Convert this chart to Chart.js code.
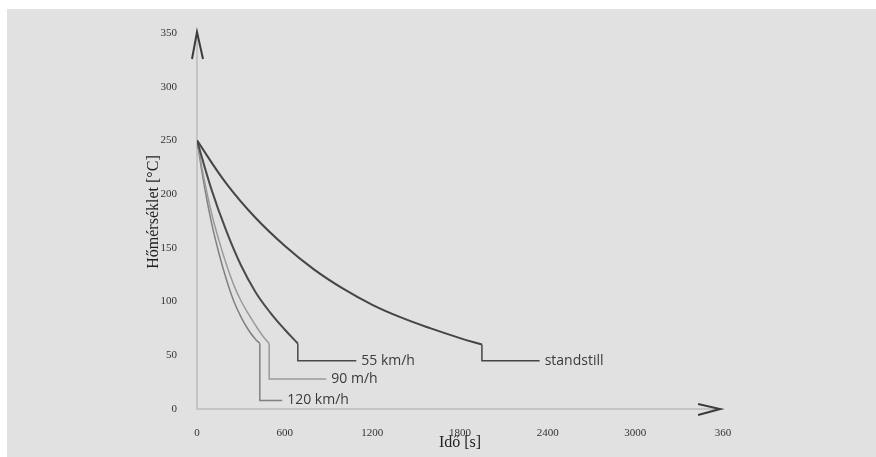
<!DOCTYPE html>
<html>
<head>
<meta charset="utf-8">
<script src="https://cdn.jsdelivr.net/npm/chart.js@4/dist/chart.umd.min.js"></script>
<style>
  body { margin: 0; background: #fff; }
  #wrap { position: absolute; left: 7px; top: 9px; width: 869px; height: 448px; background: #e1e1e1; }
</style>
</head>
<body>
<div id="wrap"><canvas id="cooling"></canvas></div>
<script>
// time [s] / temperature [°C]
var standstillTime = [0, 200, 400, 600, 800, 1000, 1200, 1400, 1600, 1800, 1950];
var standstillTemp = [250, 210, 178, 152, 130, 112, 97, 85, 75, 66, 60];

var kmh55Time = [0, 100, 200, 300, 400, 500, 600, 690];
var kmh55Temp = [250, 204, 166, 134, 109, 90, 74, 61];

var kmh90Time = [0, 50, 100, 150, 200, 250, 300, 350, 400, 450, 494];
var kmh90Temp = [250, 213, 182, 157, 135, 116, 101, 89, 78, 68, 61];

var kmh120Time = [0, 50, 100, 150, 200, 250, 300, 350, 400, 430];
var kmh120Temp = [250, 208, 173, 145, 121, 101, 86, 74, 65, 61];

// callout lines: drop from the curve end, then run right to the label
var seriesLabels = ['standstill', '55 km/h', '90 m/h', '120 km/h'];
var calloutTemp = [45, 45, 28, 8];
var calloutEndTime = [2345, 1090, 885, 583];

var xTicks = [0, 600, 1200, 1800, 2400, 3000, 3600];
var yTicks = [0, 50, 100, 150, 200, 250, 300, 350];

var colors = ['#454545', '#4a4a4a', '#9a9a9a', '#808080'];
var widths = [2, 2, 1.5, 1.5];

function pts(xs, ys) {
    return xs.map(function (x, i) { return { x: x, y: ys[i] }; });
}

var curves = [
    pts(standstillTime, standstillTemp),
    pts(kmh55Time, kmh55Temp),
    pts(kmh90Time, kmh90Temp),
    pts(kmh120Time, kmh120Temp)
];

var datasets = [];
curves.forEach(function (c, i) {
    datasets.push({
        label: seriesLabels[i],
        data: c,
        borderColor: colors[i],
        borderWidth: widths[i],
        pointRadius: 0,
        tension: 0.4
    });
    var last = c[c.length - 1];
    datasets.push({
        label: seriesLabels[i] + ' callout',
        data: [last, { x: last.x, y: calloutTemp[i] }, { x: calloutEndTime[i], y: calloutTemp[i] }],
        borderColor: colors[i],
        borderWidth: 1.5,
        pointRadius: 0,
        tension: 0
    });
});

var decorations = {
    id: 'decorations',
    afterDatasetsDraw: function (chart) {
        var ctx = chart.ctx;
        var xs = chart.scales.x, ys = chart.scales.y;
        ctx.save();
        // series labels at the end of each callout
        ctx.font = '14px "Open Sans"';
        ctx.fillStyle = '#3a3a3a';
        ctx.textBaseline = 'middle';
        ctx.textAlign = 'left';
        seriesLabels.forEach(function (lab, i) {
            ctx.fillText(lab, xs.getPixelForValue(calloutEndTime[i]) + 5, ys.getPixelForValue(calloutTemp[i]));
        });
        // axis arrows
        ctx.strokeStyle = '#3c3c3c';
        ctx.lineWidth = 2;
        var ax = xs.getPixelForValue(0), top = ys.getPixelForValue(350);
        ctx.beginPath();
        ctx.moveTo(ax - 5, top + 26);
        ctx.lineTo(ax, top - 1);
        ctx.lineTo(ax + 6, top + 26);
        ctx.stroke();
        var ay = ys.getPixelForValue(0), right = xs.getPixelForValue(3580);
        ctx.beginPath();
        ctx.moveTo(right - 22, ay - 5);
        ctx.lineTo(right, ay);
        ctx.lineTo(right - 22, ay + 6);
        ctx.stroke();
        // y axis title
        ctx.translate(147, 203);
        ctx.rotate(-Math.PI / 2);
        ctx.font = '16px "Liberation Serif"';
        ctx.fillStyle = '#222';
        ctx.textAlign = 'center';
        ctx.fillText('Hőmérséklet [°C]', 0, 0);
        ctx.restore();
    }
};

var chart = new Chart(document.getElementById('cooling'), {
    type: 'line',
    data: { datasets: datasets },
    options: {
        responsive: true,
        maintainAspectRatio: false,
        animation: false,
        layout: { padding: { top: 24, right: 153, left: 0, bottom: 0 } },
        plugins: { legend: { display: false }, tooltip: { enabled: false } },
        scales: {
            x: {
                type: 'linear',
                min: 0,
                max: 3600,
                afterFit: function (s) { s.height = 48; },
                afterBuildTicks: function (s) { s.ticks = xTicks.map(function (v) { return { value: v }; }); },
                grid: { display: false },
                border: { display: true, color: '#c4c4c4', width: 2 },
                ticks: {
                    padding: 10,
                    color: '#333',
                    font: { family: 'Liberation Serif', size: 11 },
                    callback: function (v) { return v === 3600 ? '360' : v; }
                },
                title: {
                    display: true,
                    text: 'Idő [s]',
                    color: '#222',
                    font: { family: 'Liberation Serif', size: 16 },
                    padding: { top: 0, bottom: 5 }
                }
            },
            y: {
                min: 0,
                max: 350,
                afterFit: function (s) { s.width = 190; },
                afterBuildTicks: function (s) { s.ticks = yTicks.map(function (v) { return { value: v }; }); },
                grid: { display: false },
                border: { display: true, color: '#c4c4c4', width: 2 },
                ticks: {
                    padding: 12,
                    color: '#333',
                    font: { family: 'Liberation Serif', size: 11 }
                }
            }
        }
    },
    plugins: [decorations]
});
</script>
</body>
</html>
